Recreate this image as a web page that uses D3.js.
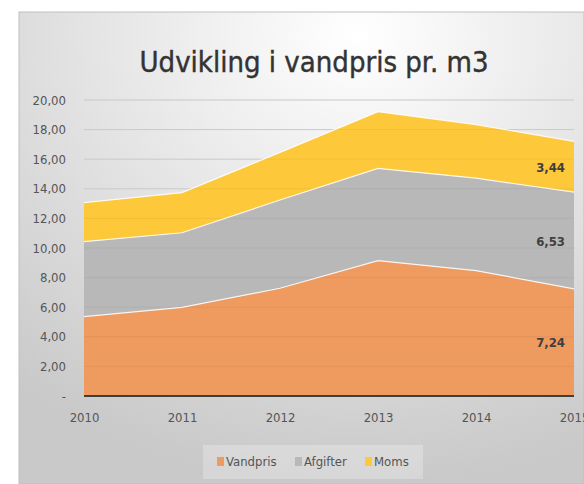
<!DOCTYPE html>
<html>
<head>
<meta charset="utf-8">
<script src="https://cdn.jsdelivr.net/npm/d3@7"></script>
<style>
  body { margin: 0; background: #fff; }
  svg text { font-family: "DejaVu Sans Condensed", "Liberation Sans Narrow", "DejaVu Sans", sans-serif; font-stretch: condensed; }
</style>
</head>
<body>
<div id="chart"></div>
<script>
// data
var years = [2010, 2011, 2012, 2013, 2014, 2015];
var vandpris = [5.36, 5.99, 7.28, 9.14, 8.47, 7.24];
var afgifter = [5.07, 5.04, 5.96, 6.24, 6.25, 6.53];
var moms = [2.63, 2.71, 3.22, 3.83, 3.62, 3.44];
var seriesNames = ["Vandpris", "Afgifter", "Moms"];
var yTicks = [0, 2, 4, 6, 8, 10, 12, 14, 16, 18, 20];

var colors = ["#ef9a5f", "#b8b8b8", "#fdc93a"];

var w = 584, h = 484;
var plotLeft = 84, plotRight = 574, plotTop = 100, plotBottom = 396;

var svg = d3.select("#chart").append("svg")
    .attr("width", w)
    .attr("height", h);

// background with a soft radial shading
var defs = svg.append("defs");
var grad = defs.append("radialGradient")
    .attr("id", "bg")
    .attr("cx", "60%").attr("cy", "5%").attr("r", "95%");
grad.append("stop").attr("offset", "0%").attr("stop-color", "#ffffff");
grad.append("stop").attr("offset", "100%").attr("stop-color", "#c9c9c9");

svg.append("rect")
    .attr("x", 19).attr("y", 12)
    .attr("width", w - 19).attr("height", h - 12)
    .attr("fill", "url(#bg)")
    .attr("stroke", "#bfbfbf")
    .attr("stroke-width", 1);

svg.append("text")
    .attr("x", 314).attr("y", 72)
    .attr("text-anchor", "middle")
    .attr("font-size", 29)
    .attr("fill", "#333333")
    .attr("stroke", "#333333")
    .attr("stroke-width", 0.4)
    .text("Udvikling i vandpris pr. m3");

var x = d3.scaleLinear().domain([2010, 2015]).range([plotLeft, plotRight]);
var y = d3.scaleLinear().domain([0, 20]).range([plotBottom, plotTop]);

// gridlines
svg.append("g")
    .selectAll("line")
    .data(yTicks.slice(1))
    .enter()
    .append("line")
    .attr("x1", plotLeft).attr("x2", plotRight)
    .attr("y1", function(d) { return y(d); })
    .attr("y2", function(d) { return y(d); })
    .attr("stroke", "#d4d4d4")
    .attr("stroke-width", 1);

var table = years.map(function(yr, i) {
    return { year: yr, Vandpris: vandpris[i], Afgifter: afgifter[i], Moms: moms[i] };
});
var stacked = d3.stack().keys(seriesNames)(table);

var area = d3.area()
    .x(function(d) { return x(d.data.year); })
    .y0(function(d) { return y(d[0]); })
    .y1(function(d) { return y(d[1]); });

var topLine = d3.line()
    .x(function(d) { return x(d.data.year); })
    .y(function(d) { return y(d[1]); });

svg.append("g")
    .selectAll("path")
    .data(stacked)
    .enter()
    .append("path")
    .attr("d", area)
    .attr("fill", function(d, i) { return colors[i]; });

// faint gridlines showing through the areas
svg.append("g")
    .selectAll("line")
    .data(yTicks.slice(1))
    .enter()
    .append("line")
    .attr("x1", plotLeft).attr("x2", plotRight)
    .attr("y1", function(d) { return y(d); })
    .attr("y2", function(d) { return y(d); })
    .attr("stroke", "#000")
    .attr("stroke-opacity", 0.05)
    .attr("stroke-width", 1);

svg.append("g")
    .selectAll("path")
    .data(stacked)
    .enter()
    .append("path")
    .attr("d", topLine)
    .attr("fill", "none")
    .attr("stroke", "#ffffff")
    .attr("stroke-opacity", 0.85)
    .attr("stroke-width", 1.2);

// base line
svg.append("line")
    .attr("x1", plotLeft).attr("x2", plotRight)
    .attr("y1", y(0)).attr("y2", y(0))
    .attr("stroke", "#3f3f3f")
    .attr("stroke-width", 2);

// y axis
var yAxis = d3.axisLeft(y)
    .tickValues(yTicks)
    .tickSize(0)
    .tickPadding(0)
    .tickFormat(function(d) { return d === 0 ? "-" : d3.format(".2f")(d).replace(".", ","); });

var gy = svg.append("g")
    .attr("transform", "translate(" + 66 + ",0)")
    .call(yAxis);
gy.select(".domain").remove();
gy.selectAll("text")
    .attr("font-size", 13)
    .attr("fill", "#555555")
    .attr("font-family", null);

// x axis
var xAxis = d3.axisBottom(x)
    .tickValues(years)
    .tickSize(0)
    .tickPadding(0)
    .tickFormat(d3.format("d"));

var gx = svg.append("g")
    .attr("transform", "translate(0," + 413 + ")")
    .call(xAxis);
gx.select(".domain").remove();
gx.selectAll("text")
    .attr("font-size", 13)
    .attr("fill", "#555555")
    .attr("font-family", null);

// data labels on the last year
var last = years.length - 1;
svg.append("g")
    .selectAll("text")
    .data(stacked)
    .enter()
    .append("text")
    .attr("x", 565)
    .attr("y", function(d) { return y((d[last][0] + d[last][1]) / 2) + 5; })
    .attr("text-anchor", "end")
    .attr("font-size", 13)
    .attr("font-weight", "bold")
    .attr("fill", "#404040")
    .text(function(d) { return d3.format(".2f")(d[last].data[d.key]).replace(".", ","); });

// legend
svg.append("rect")
    .attr("x", 203).attr("y", 445)
    .attr("width", 220).attr("height", 34)
    .attr("fill", "#ffffff")
    .attr("fill-opacity", 0.25);

var legendX = [217, 295, 365];
var legend = svg.append("g")
    .selectAll("g")
    .data(seriesNames)
    .enter()
    .append("g")
    .attr("transform", function(d, i) { return "translate(" + legendX[i] + ",0)"; });

legend.append("rect")
    .attr("x", 0).attr("y", 457)
    .attr("width", 7).attr("height", 9)
    .attr("fill", function(d, i) { return colors[i]; });

legend.append("text")
    .attr("x", 9).attr("y", 466)
    .attr("font-size", 13)
    .attr("fill", "#555555")
    .text(function(d) { return d; });
</script>
</body>
</html>
